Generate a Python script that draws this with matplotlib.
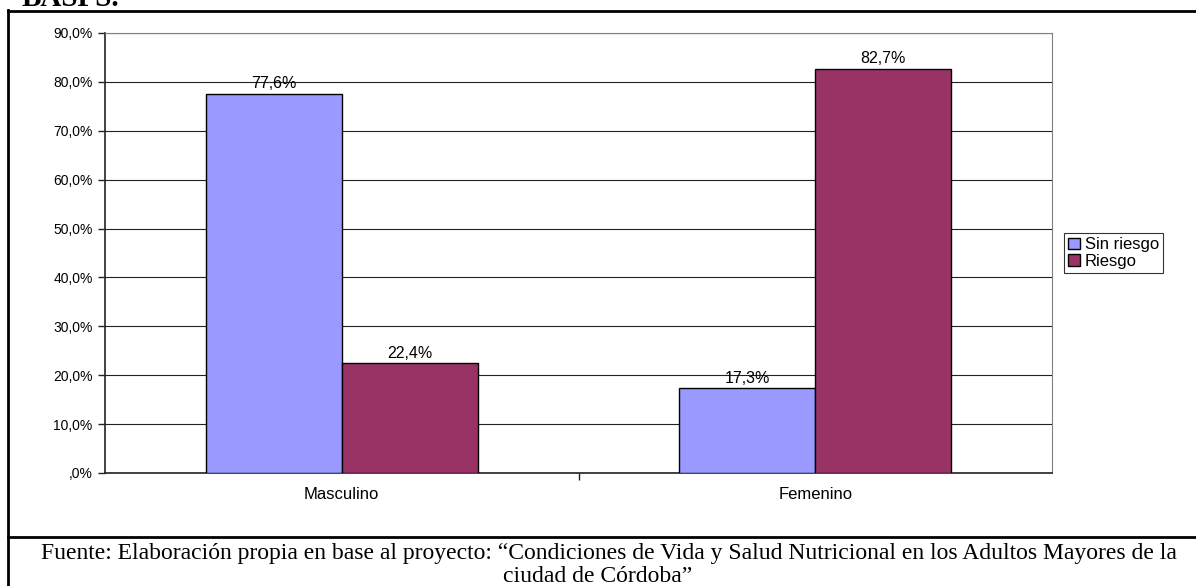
import matplotlib.pyplot as plt
import numpy as np
from matplotlib.patches import Patch

categories = ['Masculino', 'Femenino']
sin_riesgo = [77.6, 17.3]
riesgo = [22.4, 82.7]
y_ticks = [0, 10, 20, 30, 40, 50, 60, 70, 80, 90]
y_labels = [',0%', '10,0%', '20,0%', '30,0%', '40,0%', '50,0%', '60,0%', '70,0%', '80,0%', '90,0%']

blue = '#9999FF'
wine = '#993366'

plt.rcParams['font.family'] = ['Liberation Sans', 'DejaVu Sans']

fig = plt.figure(figsize=(11.96, 5.86), dpi=100)
ax = fig.add_axes([105 / 1196, 1 - 473 / 586, (1052 - 105) / 1196, (473 - 33) / 586])

x = np.arange(len(categories)) + 0.5
width = 0.2875
rects1 = ax.bar(x - width / 2, sin_riesgo, width, color=blue, edgecolor='black', linewidth=1.0, zorder=3)
rects2 = ax.bar(x + width / 2, riesgo, width, color=wine, edgecolor='black', linewidth=1.0, zorder=3)


def autolabel(rects):
    for rect in rects:
        h = rect.get_height()
        ax.annotate('{:.1f}%'.format(h).replace('.', ','),
                    xy=(rect.get_x() + rect.get_width() / 2, h),
                    xytext=(0, 2), textcoords='offset points',
                    ha='center', va='bottom', fontsize=11.5, zorder=4)


autolabel(rects1)
autolabel(rects2)

ax.set_xlim(0, 2)
ax.set_ylim(0, 90)
ax.set_yticks(y_ticks)
ax.set_yticklabels(y_labels, fontsize=10)
ax.yaxis.grid(True, color='#222222', linewidth=0.8, zorder=0)
ax.set_xticks([1])
ax.set_xticklabels([])
ax.tick_params(axis='x', length=5, width=1, color='#222222')
ax.tick_params(axis='y', length=5, width=1, color='#222222', pad=4)
for i, c in enumerate(categories):
    ax.text(x[i], -4.3, c, ha='center', va='center', fontsize=12)

ax.spines['left'].set_color('#222222')
ax.spines['bottom'].set_color('#222222')
ax.spines['left'].set_linewidth(1.2)
ax.spines['bottom'].set_linewidth(1.2)
ax.spines['top'].set_color('#808080')
ax.spines['right'].set_color('#808080')

handles = [Patch(facecolor=blue, edgecolor='black', label='Sin riesgo'),
           Patch(facecolor=wine, edgecolor='black', label='Riesgo')]
leg = fig.legend(handles=handles, loc='upper left', bbox_to_anchor=(1064 / 1196, 1 - 233 / 586),
                 frameon=True, fancybox=False, fontsize=12, handlelength=0.7, handleheight=0.7,
                 handletextpad=0.3, borderpad=0.25, labelspacing=0.1, borderaxespad=0)
leg.get_frame().set_edgecolor('black')
leg.get_frame().set_linewidth(0.8)

# surrounding table borders
fig.add_artist(plt.Line2D([8 / 1196, 8 / 1196], [0, 1 - 10 / 586], color='black', lw=2))
fig.add_artist(plt.Line2D([8 / 1196, 1], [1 - 11 / 586, 1 - 11 / 586], color='black', lw=2))
fig.add_artist(plt.Line2D([8 / 1196, 1], [1 - 537 / 586, 1 - 537 / 586], color='black', lw=2))

fig.text(22 / 1196, 1 - 6 / 586, 'BASPS.', fontsize=21, fontweight='bold',
         family='Liberation Serif', ha='left', va='baseline')

fig.text(609 / 1196, 1 - 553 / 586,
         'Fuente: Elaboración propia en base al proyecto: \u201cCondiciones de Vida y Salud Nutricional en los Adultos Mayores de la',
         fontsize=17, family='Liberation Serif', ha='center', va='center')
fig.text(598 / 1196, 1 - 576 / 586, 'ciudad de Córdoba\u201d',
         fontsize=17, family='Liberation Serif', ha='center', va='center')

fig.savefig('out.png', dpi=100)
